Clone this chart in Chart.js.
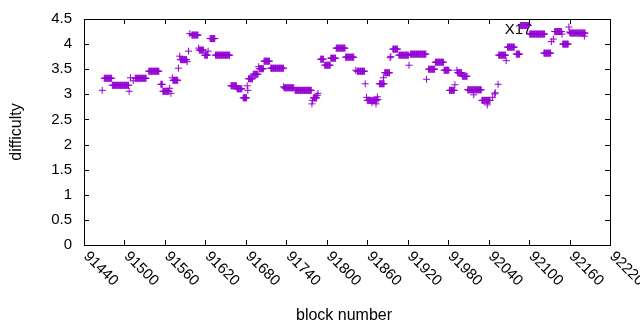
<!DOCTYPE html>
<html><head><meta charset="utf-8">
<script src="https://cdn.jsdelivr.net/npm/chart.js@4"></script>
<style>html,body{margin:0;padding:0;background:#fff}canvas{display:block}</style>
</head><body>
<canvas id="c" width="640" height="330"></canvas>
<script>
// Runs of consecutive blocks sharing one difficulty value
const runStart = [91467,91470,91482,91507,91509,91513,91516,91536,91554,91557,91567,91569,91571,91572,91580,91582,91583,91593,91595,91597,91600,91610,91611,91619,91624,91627,91635,91658,91667,91676,91682,91683,91684,91691,91699,91700,91707,91717,91736,91737,91753,91778,91779,91780,91786,91787,91791,91797,91806,91814,91828,91843,91845,91857,91859,91860,91867,91868,91873,91874,91875,91876,91878,91884,91886,91894,91895,91898,91907,91922,91924,91948,91951,91961,91974,91982,91990,91993,91994,92001,92009,92018,92030,92038,92046,92049,92050,92054,92055,92066,92068,92081,92087,92101,92122,92133,92136,92138,92149,92150,92159,92160,92161,92182];
const runEnd   = [91467,91481,91506,91507,91509,91513,91532,91551,91556,91566,91567,91569,91571,91579,91580,91582,91592,91593,91595,91597,91609,91610,91617,91623,91624,91634,91656,91666,91674,91681,91682,91683,91690,91698,91699,91706,91715,91736,91736,91751,91777,91778,91779,91785,91786,91787,91795,91805,91813,91827,91840,91843,91856,91857,91859,91866,91867,91872,91873,91874,91875,91876,91885,91884,91893,91894,91895,91905,91921,91922,91947,91948,91960,91973,91981,91989,91990,91993,92000,92008,92029,92018,92042,92038,92046,92049,92050,92054,92065,92066,92078,92086,92099,92123,92132,92133,92136,92148,92149,92158,92159,92160,92183,92182];
const runLevel = [3.08,3.32,3.18,3.06,3.33,3.27,3.32,3.46,3.20,3.06,3.12,3.02,3.33,3.28,3.52,3.76,3.69,3.65,3.86,4.21,4.18,3.92,3.88,3.78,3.86,4.11,3.78,3.17,3.11,2.93,3.17,3.08,3.31,3.40,3.55,3.51,3.66,3.52,3.15,3.13,3.08,2.81,2.88,2.93,2.98,3.02,3.70,3.58,3.72,3.92,3.74,3.48,3.46,3.21,2.94,2.88,2.83,2.88,2.81,2.88,2.95,2.90,3.21,3.33,3.43,3.73,3.75,3.90,3.78,3.58,3.80,3.30,3.50,3.64,3.48,3.08,3.19,3.48,3.43,3.36,3.09,2.99,2.88,2.79,2.94,3.01,3.03,3.20,3.78,3.67,3.94,3.80,4.37,4.20,3.82,4.05,4.10,4.25,4.20,4.00,4.34,4.24,4.22,4.16];

const xTicks = [91440,91500,91560,91620,91680,91740,91800,91860,91920,91980,92040,92100,92160,92220];
const yTicks = [0,0.5,1,1.5,2,2.5,3,3.5,4,4.5];
const yTickLabels = ['0','0.5','1','1.5','2','2.5','3','3.5','4','4.5'];
const xTitle = 'block number';
const yTitle = 'difficulty';
const seriesLabel = 'X17';
const labelBlock = 92064, labelLevel = 4.28;

const points = [];
for (let i = 0; i < runStart.length; i++) {
  for (let b = runStart[i]; b <= runEnd[i]; b++) points.push({x: b, y: runLevel[i]});
}

const FONT = '"Liberation Sans", Arial, sans-serif';
const frame = {
  id: 'frame',
  beforeDatasetsDraw(chart) {
    const {ctx} = chart, xs = chart.scales.x, ys = chart.scales.y;
    ctx.save();
    ctx.fillStyle = '#000';
    ctx.font = '15px ' + FONT;
    ctx.textAlign = 'left'; ctx.textBaseline = 'middle';
    ctx.fillText(seriesLabel, xs.getPixelForValue(labelBlock), ys.getPixelForValue(labelLevel));
    ctx.restore();
  },
  afterDraw(chart) {
    const {ctx, chartArea: a} = chart, xs = chart.scales.x, ys = chart.scales.y;
    ctx.save();
    ctx.strokeStyle = '#000'; ctx.lineWidth = 1;
    ctx.strokeRect(Math.round(a.left) + 0.5, Math.round(a.top) + 0.5, Math.round(a.right - a.left), Math.round(a.bottom - a.top));
    ctx.beginPath();
    const T = 5;
    xTicks.forEach(v => {
      const p = Math.round(xs.getPixelForValue(v)) + 0.5;
      ctx.moveTo(p, a.bottom); ctx.lineTo(p, a.bottom - T);
      ctx.moveTo(p, a.top); ctx.lineTo(p, a.top + T);
    });
    yTicks.forEach(v => {
      const p = Math.round(ys.getPixelForValue(v)) + 0.5;
      ctx.moveTo(a.left, p); ctx.lineTo(a.left + T, p);
      ctx.moveTo(a.right, p); ctx.lineTo(a.right - T, p);
    });
    ctx.stroke();
    ctx.fillStyle = '#000';
    ctx.font = '15px ' + FONT;
    ctx.textAlign = 'right'; ctx.textBaseline = 'middle';
    yTicks.forEach((v, i) => ctx.fillText(yTickLabels[i], a.left - 12, ys.getPixelForValue(v)));
    ctx.textAlign = 'left';
    xTicks.forEach(v => {
      ctx.save();
      ctx.translate(xs.getPixelForValue(v) + 2, a.bottom + 9);
      ctx.rotate(Math.PI / 4);
      ctx.fillText(String(v), 0, 0);
      ctx.restore();
    });
    ctx.font = '16px ' + FONT;
    ctx.textAlign = 'center';
    ctx.fillText(xTitle, 344, 316);
    ctx.save();
    ctx.translate(17, (a.top + a.bottom) / 2);
    ctx.rotate(-Math.PI / 2);
    ctx.fillText(yTitle, 0, 0);
    ctx.restore();
    ctx.restore();
  }
};

new Chart(document.getElementById('c'), {
  type: 'scatter',
  data: { datasets: [{
    label: seriesLabel,
    data: points,
    pointStyle: 'cross',
    pointRadius: 3.5,
    pointHoverRadius: 3.5,
    pointBorderWidth: 1,
    borderColor: '#9400D3',
    backgroundColor: '#9400D3',
    showLine: false
  }]},
  options: {
    responsive: false,
    animation: false,
    events: [],
    devicePixelRatio: 1,
    layout: { padding: { top: 19, right: 30, left: 0, bottom: 0 } },
    plugins: { legend: { display: false }, tooltip: { enabled: false } },
    scales: {
      x: { type: 'linear', min: 91440, max: 92220,
           grid: { display: false }, border: { display: false },
           ticks: { display: false },
           afterFit: s => { s.height = 85; } },
      y: { type: 'linear', min: 0, max: 4.5,
           grid: { display: false }, border: { display: false },
           ticks: { display: false },
           afterFit: s => { s.width = 84; } }
    }
  },
  plugins: [frame]
});
</script>
</body></html>
